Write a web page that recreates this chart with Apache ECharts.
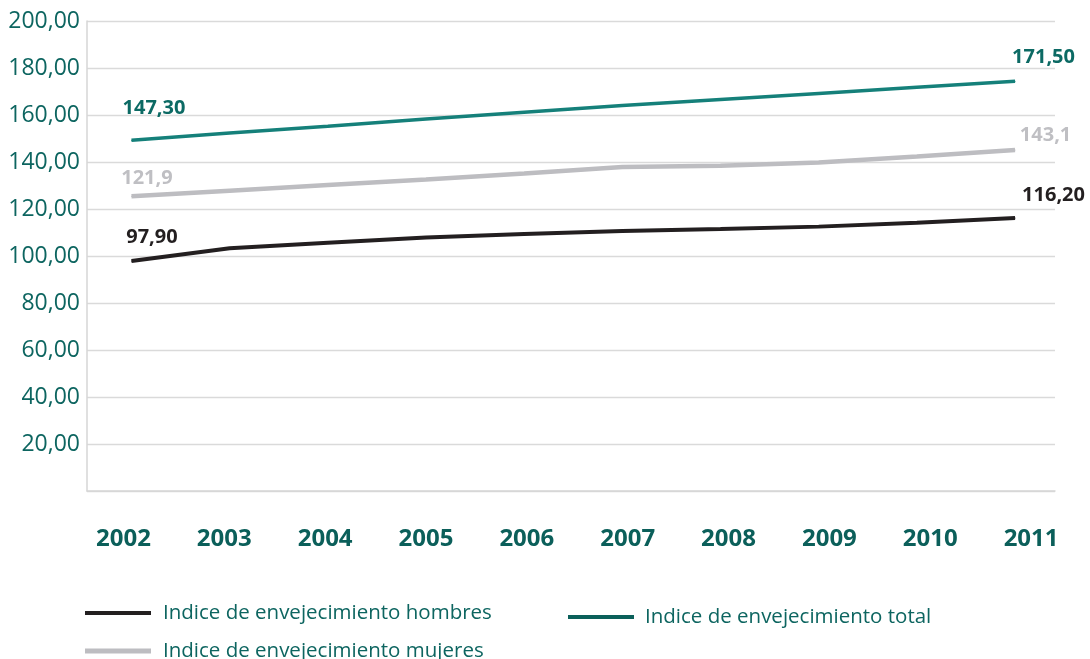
<!DOCTYPE html>
<html>
<head>
<meta charset="utf-8">
<script src="https://cdn.jsdelivr.net/npm/echarts@6/dist/echarts.min.js"></script>
<style>html,body{margin:0;padding:0;background:#fff;}#c{width:1090px;height:659px;}</style>
</head>
<body>
<div id="c"></div>
<script>
const years = [2002, 2003, 2004, 2005, 2006, 2007, 2008, 2009, 2010, 2011];
const hombres = [97.9, 103.3, 105.6, 107.9, 109.4, 110.6, 111.5, 112.5, 114.2, 116.2];
const mujeres = [125.4, 127.8, 130.2, 132.6, 135.1, 137.9, 138.4, 139.8, 142.3, 145.1];
const total = [149.3, 152.3, 155.2, 158.3, 161.2, 164.0, 166.6, 169.2, 171.8, 174.4];
const hombresEndLabels = ['97,90', '116,20'];
const mujeresEndLabels = ['121,9', '143,1'];
const totalEndLabels = ['147,30', '171,50'];
const seriesNames = ['Indice de envejecimiento hombres', 'Indice de envejecimiento mujeres', 'Indice de envejecimiento total'];

const TEXT_TEAL = '#0d6560';
const FONT = 'Open Sans';

function buildData(values, endLabels, color, offStart, offEnd) {
  return years.map((y, i) => {
    const item = { value: [y, values[i]] };
    if (i === 0 || i === years.length - 1) {
      item.label = {
        show: true,
        position: 'inside',
        formatter: i === 0 ? endLabels[0] : endLabels[1],
        offset: i === 0 ? offStart : offEnd,
        color: color,
        fontFamily: FONT,
        fontWeight: 'bold',
        fontSize: 20
      };
    }
    return item;
  });
}

const legendText = { color: TEXT_TEAL, fontFamily: FONT, fontSize: 20.5, lineHeight: 24, padding: [0, 0, 0, 7] };

const chart = echarts.init(document.getElementById('c'), null, { renderer: 'canvas' });
chart.setOption({
  animation: false,
  backgroundColor: '#ffffff',
  grid: [
    { left: 87, right: 35, top: 21, bottom: 168 },
    { left: 73, right: 8.5, top: 490, height: 1 }
  ],
  xAxis: [
    {
      type: 'value', gridIndex: 0, min: 2001.547, max: 2011.407,
      axisLine: { show: true, onZero: false, lineStyle: { color: '#d6d6d6', width: 1.5 } },
      axisTick: { show: false }, axisLabel: { show: false }, splitLine: { show: false }
    },
    {
      type: 'category', gridIndex: 1, data: years, boundaryGap: true,
      axisLine: { show: false }, axisTick: { show: false },
      axisLabel: { margin: 36, color: '#0b5f5a', fontFamily: FONT, fontWeight: 'bold', fontSize: 24 }
    }
  ],
  yAxis: [
    {
      type: 'value', gridIndex: 0, min: 0, max: 200, interval: 20,
      axisLine: { show: true, lineStyle: { color: '#d6d6d6', width: 1.5 } },
      axisTick: { show: false },
      splitLine: { show: true, lineStyle: { color: '#dadada', width: 1.3 } },
      axisLabel: {
        margin: 7, color: TEXT_TEAL, fontFamily: FONT, fontSize: 23,
        formatter: v => v === 0 ? '' : v.toFixed(2).replace('.', ',')
      }
    },
    { type: 'value', gridIndex: 1, show: false }
  ],
  legend: [
    {
      data: [seriesNames[0]], left: 85, top: 601, padding: 0, icon: 'rect', itemWidth: 66, itemHeight: 4,
      textStyle: legendText, selectedMode: false
    },
    {
      data: [seriesNames[1]], left: 85, top: 639, padding: 0, icon: 'rect', itemWidth: 66, itemHeight: 5,
      textStyle: legendText, selectedMode: false
    },
    {
      data: [{ name: seriesNames[2], itemStyle: { color: '#0b605a' } }], left: 568, top: 605, padding: 0, icon: 'rect', itemWidth: 66, itemHeight: 4,
      textStyle: Object.assign({}, legendText, { padding: [0, 0, 0, 6] }), selectedMode: false
    }
  ],
  series: [
    {
      name: seriesNames[0], type: 'line', xAxisIndex: 0, yAxisIndex: 0,
      data: buildData(hombres, hombresEndLabels, '#231f20', [20.5, -23.5], [38.5, -23]),
      symbol: 'circle', symbolSize: 1, showSymbol: true,
      lineStyle: { color: '#231f20', width: 4 }, itemStyle: { color: '#231f20' },
      emphasis: { disabled: true }, z: 3
    },
    {
      name: seriesNames[1], type: 'line', xAxisIndex: 0, yAxisIndex: 0,
      data: buildData(mujeres, mujeresEndLabels, '#bfbfc3', [15.5, -18], [30.5, -15]),
      symbol: 'circle', symbolSize: 1, showSymbol: true,
      lineStyle: { color: '#bdbdc1', width: 4.5 }, itemStyle: { color: '#bdbdc1' },
      emphasis: { disabled: true }, z: 2
    },
    {
      name: seriesNames[2], type: 'line', xAxisIndex: 0, yAxisIndex: 0,
      data: buildData(total, totalEndLabels, '#0c6a64', [22.5, -32], [28.5, -24]),
      symbol: 'circle', symbolSize: 1, showSymbol: true,
      lineStyle: { color: '#15807a', width: 3.5 }, itemStyle: { color: '#15807a' },
      emphasis: { disabled: true }, z: 4
    }
  ]
});
</script>
</body>
</html>
